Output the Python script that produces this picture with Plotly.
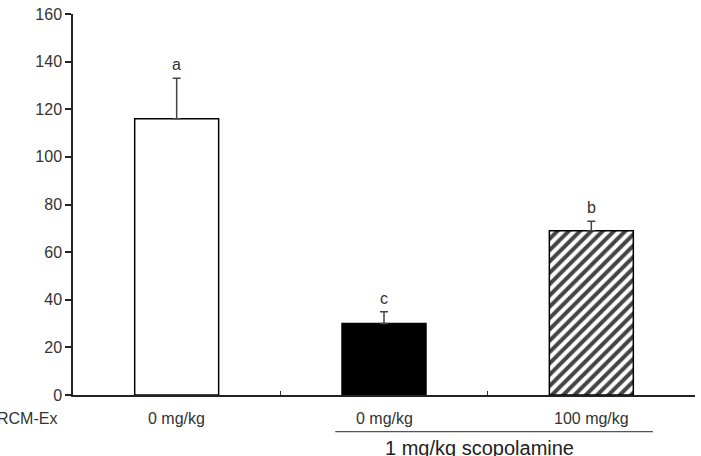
import plotly.graph_objects as go

groups = ["0 mg/kg", "0 mg/kg", "100 mg/kg"]
means = [116, 30, 69]
errors = [17, 5, 4]
letters = ["a", "c", "b"]
row_label = "RCM-Ex"
group_label = "1 mg/kg scopolamine"
yticks = [0, 20, 40, 60, 80, 100, 120, 140, 160]

xpos = list(range(len(groups)))
FONT = "Liberation Sans, Arial, sans-serif"

fig = go.Figure()
fig.add_trace(go.Bar(
    x=xpos, y=means, width=0.405,
    marker=dict(
        color=["white", "black", "white"],
        line=dict(color="black", width=1.5),
        pattern=dict(shape=["", "", "/"], fgcolor="black", bgcolor="white",
                     fgopacity=1, size=8, solidity=0.5),
    ),
    error_y=dict(type="data", symmetric=False, array=errors,
                 arrayminus=[0] * len(errors), color="#444", thickness=1.5, width=4),
    showlegend=False,
))

annotations = []
for x, m, e, l in zip(xpos, means, errors, letters):
    annotations.append(dict(x=x, y=m + e, text=l, showarrow=False, yanchor="bottom",
                            yshift=3, font=dict(size=16, color="#333", family=FONT)))
for x, g in zip(xpos, groups):
    annotations.append(dict(x=x, y=-0.062, yref="paper", text=g, showarrow=False,
                            yanchor="middle", font=dict(size=16, color="#333", family=FONT)))
annotations.append(dict(x=0, xref="paper", xanchor="right", xshift=-14, y=-0.062, yref="paper",
                        text=row_label, showarrow=False, yanchor="middle",
                        font=dict(size=16, color="#333", family=FONT)))
annotations.append(dict(x=1.46, y=-0.138, yref="paper", text=group_label, showarrow=False,
                        yanchor="middle", font=dict(size=20, color="#222", family=FONT)))

fig.add_shape(type="line", xref="x", yref="paper", x0=0.765, x1=2.297, y0=-0.096, y1=-0.096,
              line=dict(color="#555", width=1.2))

fig.update_layout(
    width=701, height=456,
    margin=dict(l=73, r=6, t=11, b=61),
    plot_bgcolor="white", paper_bgcolor="white",
    font=dict(family=FONT, color="#333"),
    annotations=annotations,
    xaxis=dict(range=[-0.5, 2.5], tickvals=[0.5, 1.5, 2.5], ticks="inside", ticklen=4,
               tickcolor="#333", tickwidth=1.2, showticklabels=False, showline=True,
               linecolor="#222", linewidth=1.5, showgrid=False, zeroline=False),
    yaxis=dict(range=[0, 160], tickvals=yticks, ticks="outside", ticklen=6, tickcolor="#222",
               tickwidth=1.5, showline=True, linecolor="#222", linewidth=1.5,
               showgrid=False, zeroline=False, tickfont=dict(size=16, color="#333", family=FONT)),
)

fig.write_html("out.html")
